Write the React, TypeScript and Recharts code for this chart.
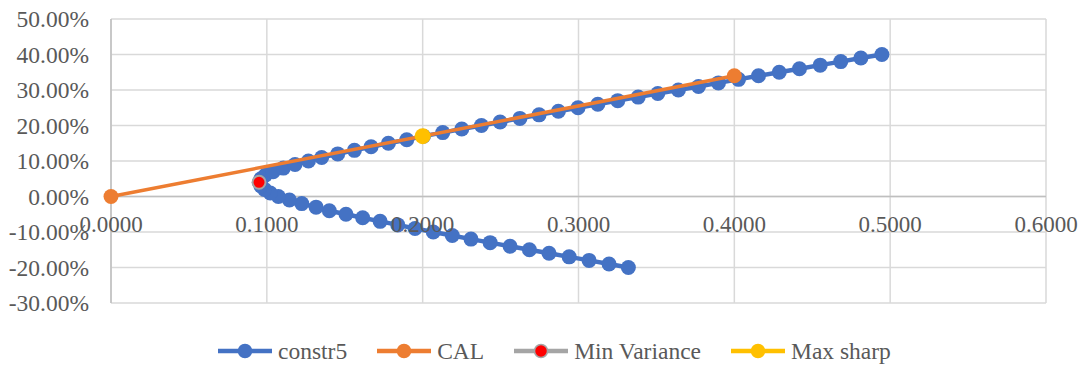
import React from 'react';
import { ScatterChart, Scatter, XAxis, YAxis, CartesianGrid, Legend, ReferenceLine } from 'recharts';

// constr5 frontier: expected return and standard deviation
const constrReturns = [
  -0.20, -0.19, -0.18, -0.17, -0.16, -0.15, -0.14, -0.13, -0.12, -0.11, -0.10,
  -0.09, -0.08, -0.07, -0.06, -0.05, -0.04, -0.03, -0.02, -0.01, 0.00,
  0.01, 0.02, 0.03, 0.04, 0.05, 0.06, 0.07, 0.08, 0.09, 0.10,
  0.11, 0.12, 0.13, 0.14, 0.15, 0.16, 0.17, 0.18, 0.19, 0.20,
  0.21, 0.22, 0.23, 0.24, 0.25, 0.26, 0.27, 0.28, 0.29, 0.30,
  0.31, 0.32, 0.33, 0.34, 0.35, 0.36, 0.37, 0.38, 0.39, 0.40,
];
const constrRisk = [
  0.3320, 0.3196, 0.3068, 0.2940, 0.2811, 0.2685, 0.2561, 0.2433, 0.2310, 0.2190, 0.2068,
  0.1951, 0.1840, 0.1727, 0.1615, 0.1508, 0.1401, 0.1316, 0.1224, 0.1145, 0.1074,
  0.1022, 0.0985, 0.0962, 0.0952, 0.0962, 0.0990, 0.1040, 0.1106, 0.1181, 0.1267,
  0.1352, 0.1455, 0.1562, 0.1669, 0.1780, 0.1898, 0.2005, 0.2129, 0.2251, 0.2377,
  0.2497, 0.2624, 0.2747, 0.2871, 0.2997, 0.3124, 0.3252, 0.3383, 0.3509, 0.3641,
  0.3770, 0.3898, 0.4027, 0.4155, 0.4288, 0.4418, 0.4551, 0.4683, 0.4812, 0.4947,
];

const calRisk = [0.0, 0.4];
const calReturns = [0.0, 0.34];

const minVarRisk = [0.095];
const minVarReturns = [0.04];

const maxSharpRisk = [0.2];
const maxSharpReturns = [0.17];

const xTicks = [0, 0.1, 0.2, 0.3, 0.4, 0.5, 0.6];
const yTicks = [-0.3, -0.2, -0.1, 0, 0.1, 0.2, 0.3, 0.4, 0.5];

const toPoints = (xs: number[], ys: number[]) => xs.map((x, i) => ({ x, y: ys[i] }));
const constrData = toPoints(constrRisk, constrReturns);
const calData = toPoints(calRisk, calReturns);
const minVarData = toPoints(minVarRisk, minVarReturns);
const maxSharpData = toPoints(maxSharpRisk, maxSharpReturns);

const FONT = '"Liberation Serif", "Times New Roman", serif';
const TEXT = '#595959';
const GRID = '#d9d9d9';
const BLUE = '#4472C4';
const ORANGE = '#ED7D31';
const GRAY = '#A5A5A5';
const YELLOW = '#FFC000';
const RED = '#FF0000';

const W = 1084;
const H = 367;
const M = { top: 19, right: 38, left: 11, bottom: 34 };
const X_AXIS_H = 30;
const PLOT_TOP = M.top;
const PLOT_H = H - M.top - M.bottom - X_AXIS_H;
const Y_MIN = -0.3;
const Y_MAX = 0.5;
const ZERO_Y = PLOT_TOP + (PLOT_H * (Y_MAX - 0)) / (Y_MAX - Y_MIN);

const dot = (fill: string, r: number, stroke?: string, sw?: number) => (props: any) => {
  const { cx, cy } = props;
  if (cx == null || cy == null) return <g />;
  return <circle cx={cx} cy={cy} r={r} fill={fill} stroke={stroke || 'none'} strokeWidth={sw || 0} />;
};

const XTick = (props: any) => {
  const { x, payload } = props;
  return (
    <text x={x} y={ZERO_Y + 35} textAnchor="middle" fill={TEXT} fontSize={23} fontFamily={FONT}>
      {Number(payload.value).toFixed(4)}
    </text>
  );
};

const legendItems = [
  { name: 'constr5', line: BLUE, fill: BLUE, stroke: BLUE },
  { name: 'CAL', line: ORANGE, fill: ORANGE, stroke: ORANGE },
  { name: 'Min Variance', line: GRAY, fill: RED, stroke: GRAY },
  { name: 'Max sharp', line: YELLOW, fill: YELLOW, stroke: YELLOW },
];

const LegendContent = () => (
  <div style={{ display: 'flex', alignItems: 'center', paddingLeft: 218, height: 30 }}>
    {legendItems.map((it, i) => (
      <div key={it.name} style={{ display: 'flex', alignItems: 'center', marginRight: i < legendItems.length - 1 ? 30 : 0 }}>
        <svg width={54} height={18} style={{ display: 'block' }}>
          <line x1={0} y1={9} x2={54} y2={9} stroke={it.line} strokeWidth={4.5} />
          <circle cx={27} cy={9} r={6.5} fill={it.fill} stroke={it.stroke} strokeWidth={1.5} />
        </svg>
        <span style={{ marginLeft: 6, fontFamily: FONT, fontSize: 23.5, color: TEXT, lineHeight: '30px', whiteSpace: 'nowrap' }}>
          {it.name}
        </span>
      </div>
    ))}
  </div>
);

export default function App() {
  return (
    <div style={{ position: 'absolute', left: 0, top: 0, width: W, height: H, background: '#fff' }}>
      <ScatterChart width={W} height={H} margin={M}>
        <CartesianGrid stroke={GRID} strokeWidth={1.5} />
        <XAxis
          type="number"
          dataKey="x"
          domain={[0, 0.6]}
          ticks={xTicks}
          interval={0}
          axisLine={false}
          tickLine={false}
          height={X_AXIS_H}
          tick={<XTick />}
        />
        <YAxis
          type="number"
          dataKey="y"
          domain={[Y_MIN, Y_MAX]}
          ticks={yTicks}
          interval={0}
          width={100}
          axisLine={{ stroke: '#bfbfbf', strokeWidth: 1.5 }}
          tickLine={false}
          tickSize={0}
          tickMargin={22}
          tick={{ fill: TEXT, fontSize: 23.5, fontFamily: FONT }}
          tickFormatter={(v: number) => (v * 100).toFixed(2) + '%'}
        />
        <ReferenceLine y={0} stroke="#bfbfbf" strokeWidth={1.5} />
        <Scatter
          name="constr5"
          data={constrData}
          fill={BLUE}
          line={{ stroke: BLUE, strokeWidth: 4.5 }}
          lineType="joint"
          shape={dot(BLUE, 7.5)}
          isAnimationActive={false}
        />
        <Scatter
          name="CAL"
          data={calData}
          fill={ORANGE}
          line={{ stroke: ORANGE, strokeWidth: 3.5 }}
          lineType="joint"
          shape={dot(ORANGE, 7.5)}
          isAnimationActive={false}
        />
        <Scatter
          name="Min Variance"
          data={minVarData}
          fill={RED}
          shape={dot(RED, 6.5, GRAY, 2)}
          isAnimationActive={false}
        />
        <Scatter
          name="Max sharp"
          data={maxSharpData}
          fill={YELLOW}
          shape={dot(YELLOW, 8)}
          isAnimationActive={false}
        />
        <Legend
          layout="horizontal"
          verticalAlign="middle"
          align="center"
          content={<LegendContent />}
          wrapperStyle={{ position: 'absolute', top: 336, left: 0, width: W, height: 30 }}
        />
      </ScatterChart>
    </div>
  );
}
